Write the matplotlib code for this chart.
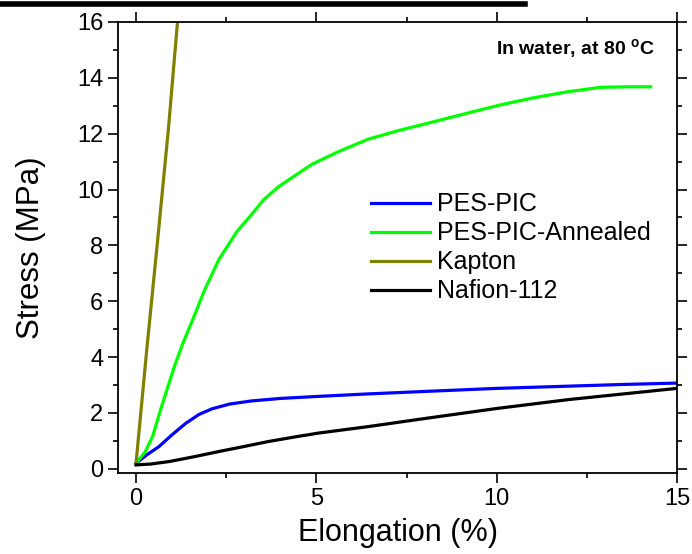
import numpy as np
import matplotlib
matplotlib.use("Agg")
import matplotlib.pyplot as plt
from matplotlib.lines import Line2D
from matplotlib.ticker import MultipleLocator

plt.rcParams["font.family"] = ["Liberation Sans", "DejaVu Sans"]

# PES-PIC
pes_x = [0, 0.3, 0.64, 1.0, 1.38, 1.75, 2.11, 2.6, 3.2, 4, 5, 6.4, 8, 10, 12, 13.5, 15]
pes_y = [0.2, 0.5, 0.8, 1.22, 1.63, 1.95, 2.15, 2.32, 2.43, 2.52, 2.59, 2.68,
         2.77, 2.88, 2.96, 3.02, 3.07]

# PES-PIC-Annealed
ann_x = [0, 0.25, 0.46, 0.7, 1.06, 1.3, 1.56, 1.9, 2.3, 2.8, 3.2, 3.55, 3.95,
         4.57, 4.87, 5.6, 6.43, 7.3, 8.26, 9.2, 10.1, 11.0, 11.96, 12.88,
         13.6, 14.27]
ann_y = [0.2, 0.6, 1.16, 2.2, 3.65, 4.5, 5.3, 6.4, 7.5, 8.5, 9.1, 9.65, 10.1,
         10.64, 10.9, 11.35, 11.8, 12.12, 12.43, 12.74, 13.03, 13.28, 13.5,
         13.66, 13.68, 13.68]

# Kapton
kap_x = [0, 0.3, 0.6, 0.9, 1.15]
kap_y = [0.2, 4.3, 8.2, 12.2, 16.0]

# Nafion-112
naf_x = [0, 0.4, 0.92, 1.6, 2.3, 3.0, 3.68, 4.4, 5.06, 6.43, 8, 10, 12, 13.5, 15]
naf_y = [0.14, 0.17, 0.26, 0.43, 0.62, 0.8, 0.98, 1.14, 1.28, 1.51, 1.8, 2.16,
         2.48, 2.68, 2.88]

fig = plt.figure(figsize=(6.92, 5.54), dpi=100)
ax = fig.add_axes([118 / 692, 1 - 473 / 554, (677 - 118) / 692, (473 - 22) / 554])

ax.plot(pes_x, pes_y, color="#0000ff", lw=2.3, label="PES-PIC")
ax.plot(ann_x, ann_y, color="#00ff00", lw=2.3, label="PES-PIC-Annealed")
ax.plot(kap_x, kap_y, color="#808000", lw=2.3, label="Kapton")
ax.plot(naf_x, naf_y, color="#000000", lw=2.3, label="Nafion-112")

ax.set_xlim(-0.5, 15)
ax.set_ylim(-0.15, 16)
ax.xaxis.set_major_locator(MultipleLocator(5))
ax.xaxis.set_minor_locator(MultipleLocator(2.5))
ax.yaxis.set_major_locator(MultipleLocator(2))
ax.yaxis.set_minor_locator(MultipleLocator(1))
ax.tick_params(which="both", direction="out", top=True, right=True,
               labelsize=17, width=1.2, pad=3)
ax.tick_params(which="major", length=7.5)
ax.tick_params(which="minor", length=3.8)
for s in ax.spines.values():
    s.set_linewidth(1.3)

ax.set_xlabel("Elongation (%)", fontsize=22, labelpad=6)
ax.set_ylabel("Stress (MPa)", fontsize=22.5, labelpad=22)

ax.text(0.9606, 0.940, r"In water, at 80 $^\mathregular{o}$C", transform=ax.transAxes,
        ha="right", va="center", fontsize=14, fontweight="bold")

ax.legend(loc="upper left", bbox_to_anchor=(0.4526, 0.622), frameon=False,
          fontsize=18, handlelength=2.35, labelspacing=0.2, handletextpad=0.3,
          borderaxespad=0, borderpad=0)

# black rule along the top edge of the cropped page
fig.add_artist(Line2D([0, 525 / 692], [1 - 4 / 554, 1 - 4 / 554],
                      transform=fig.transFigure, color="black", lw=4))

fig.savefig("out.png", dpi=100)
